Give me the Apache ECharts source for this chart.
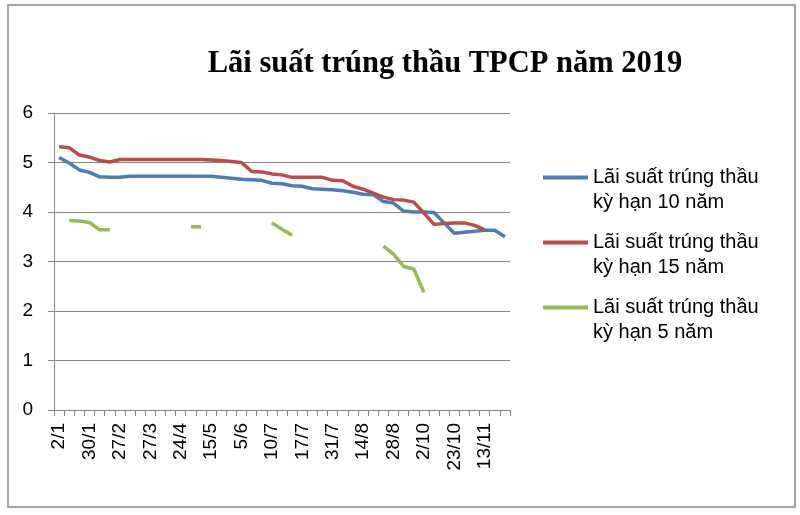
<!DOCTYPE html>
<html>
<head>
<meta charset="utf-8">
<script src="https://cdn.jsdelivr.net/npm/echarts@6/dist/echarts.min.js"></script>
<style>
html,body{margin:0;padding:0;background:#fff;}
#chart{width:800px;height:515px;}
</style>
</head>
<body>
<div id="chart"></div>
<script>
var categories = ['2/1','9/1','16/1','30/1','13/2','20/2','27/2','6/3','13/3','27/3','3/4','17/4','24/4','3/5','8/5','15/5','22/5','29/5','5/6','19/6','26/6','10/7','12/7','15/7','17/7','24/7','26/7','31/7','2/8','7/8','14/8','16/8','21/8','28/8','11/9','18/9','2/10','9/10','16/10','23/10','30/10','6/11','13/11','20/11','27/11'];

var yield10 = [5.10,4.99,4.85,4.80,4.71,4.70,4.70,4.72,4.72,4.72,4.72,4.72,4.72,4.72,4.72,4.72,4.70,4.68,4.66,4.65,4.64,4.58,4.57,4.53,4.52,4.47,4.46,4.45,4.43,4.40,4.36,4.35,4.21,4.18,4.02,4.00,4.00,3.99,3.78,3.57,3.59,3.61,3.63,3.63,3.50];

var yield15 = [5.32,5.30,5.15,5.11,5.04,5.01,5.06,5.06,5.06,5.06,5.06,5.06,5.06,5.06,5.06,5.05,5.04,5.02,5.00,4.82,4.81,4.77,4.75,4.70,4.70,4.70,4.70,4.64,4.63,4.52,4.46,4.38,4.30,4.25,4.24,4.20,3.98,3.75,3.77,3.78,3.78,3.73,3.64,null,null];

var yield5 = [null,3.83,3.82,3.79,3.64,3.64,null,null,null,null,null,null,null,3.70,3.70,null,null,null,null,null,null,3.78,3.65,3.53,null,null,null,null,null,null,null,null,3.31,3.15,2.90,2.85,2.38,null,null,null,null,null,null,null,null];

var seriesNames = ['Lãi suất trúng thầu\nkỳ hạn 10 năm','Lãi suất trúng thầu\nkỳ hạn 15 năm','Lãi suất trúng thầu\nkỳ hạn 5 năm'];
var yTicks = {min:0, max:6, interval:1};
var titleText = 'Lãi suất trúng thầu TPCP năm 2019';

var chart = echarts.init(document.getElementById('chart'), null, {renderer:'canvas'});
var axisGray = '#868686';
function mkSeries(name, data, color){
  return {name:name, type:'line', data:data, symbol:'none', connectNulls:false,
    lineStyle:{color:color, width:3.5}, itemStyle:{color:color}, animation:false};
}
chart.setOption({
  animation:false,
  backgroundColor:'#fff',
  title:{text:titleText, left:440, textAlign:'center', top:44,
    textStyle:{fontFamily:'Liberation Serif', fontWeight:'bold', fontSize:30.5, color:'#000'}},
  graphic:[{type:'rect', shape:{x:8, y:5, width:787, height:502},
    style:{fill:'none', stroke:'#888', lineWidth:1.5}, silent:true}],
  legend:{orient:'vertical', left:543, top:140, padding:0, icon:'rect', itemWidth:45, itemHeight:4, itemGap:-10,
    formatter:function(n){return '\n' + n;},
    textStyle:{fontFamily:'Liberation Sans', fontSize:20, color:'#000', lineHeight:25},
    data:seriesNames},
  grid:{left:54, top:113, width:456, height:297},
  xAxis:{type:'category', data:categories, boundaryGap:true,
    axisLine:{lineStyle:{color:axisGray, width:1}},
    axisTick:{show:true, interval:0, length:6, lineStyle:{color:axisGray}},
    axisLabel:{interval:2, rotate:90, margin:13, fontFamily:'Liberation Sans', fontSize:19, color:'#000'}},
  yAxis:{type:'value', min:yTicks.min, max:yTicks.max, interval:yTicks.interval,
    axisLine:{show:true, lineStyle:{color:axisGray, width:1}},
    axisTick:{show:true, length:6, lineStyle:{color:axisGray}},
    splitLine:{lineStyle:{color:axisGray, width:1}},
    axisLabel:{margin:21, fontFamily:'Liberation Sans', fontSize:19, color:'#000'}},
  series:[mkSeries(seriesNames[0], yield10, '#4A7EBB'),
          mkSeries(seriesNames[1], yield15, '#BE4B48'),
          mkSeries(seriesNames[2], yield5, '#98B954')]
});
</script>
</body>
</html>
